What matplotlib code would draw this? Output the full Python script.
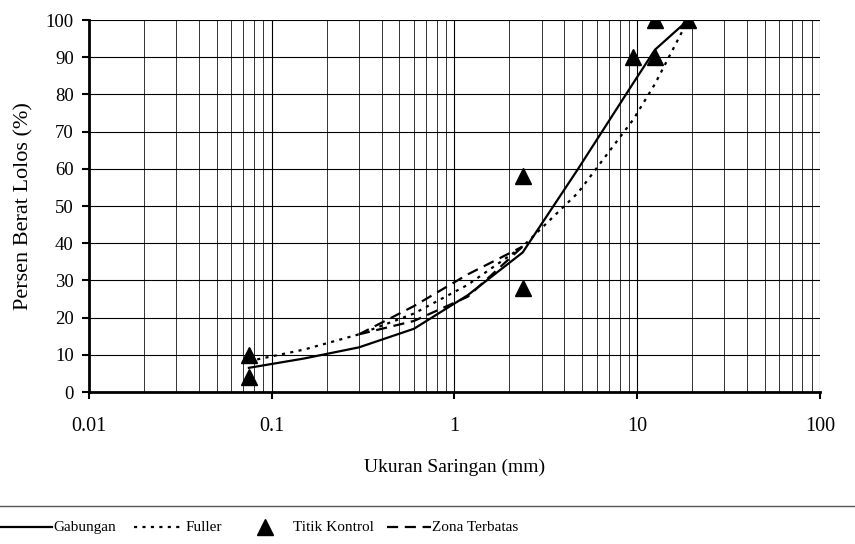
"""Gradasi agregat gabungan vs Fuller, titik kontrol dan zona terbatas."""

import matplotlib

matplotlib.use("Agg")
import matplotlib.pyplot as plt
from matplotlib.lines import Line2D
from matplotlib.ticker import FixedLocator, LogLocator, NullFormatter

# ukuran saringan (mm)
SIEVE = [0.075, 0.15, 0.3, 0.6, 1.18, 2.36, 4.75, 9.5, 12.5, 19.0]
GABUNGAN = [6.5, 9.0, 12.0, 17.0, 26.0, 37.5, 60.0, 83.0, 92.0, 100.0]
FULLER = [8.3, 11.4, 15.5, 21.1, 28.8, 39.1, 53.6, 73.2, 82.8, 100.0]

ZONA_SIEVE = [0.3, 0.6, 1.18, 2.36]
ZONA_ATAS = [15.5, 23.1, 31.6, 39.1]
ZONA_BAWAH = [15.5, 19.1, 25.6, 39.1]

KONTROL_SIEVE = [0.075, 0.075, 2.36, 2.36, 9.5, 12.5, 12.5, 19.0]
KONTROL_NILAI = [4, 10, 28, 58, 90, 90, 100, 100]

Y_TICKS = list(range(0, 101, 10))

plt.rcParams.update(
    {
        "font.family": ["Liberation Serif", "DejaVu Serif"],
        "font.size": 11,
    }
)

fig = plt.figure(figsize=(8.55, 5.44), dpi=100)
ax = fig.add_axes([0.1041, 0.2794, 0.8549, 0.6838])

ax.plot(SIEVE, GABUNGAN, color="black", linewidth=1.6, zorder=3)
ax.plot(SIEVE, FULLER, color="black", linewidth=1.6,
        linestyle=(0, (1.4, 2.4)), zorder=3)
for upper_lower in (ZONA_ATAS, ZONA_BAWAH):
    ax.plot(ZONA_SIEVE, upper_lower, color="black", linewidth=1.6,
            linestyle=(0, (5, 3)), zorder=3)
ax.plot(KONTROL_SIEVE, KONTROL_NILAI, linestyle="none", marker="^",
        markersize=12, color="black", zorder=4)

ax.set_xscale("log")
ax.set_xlim(0.01, 100)
ax.set_ylim(0, 100)
ax.xaxis.set_major_locator(FixedLocator([0.01, 0.1, 1, 10, 100]))
ax.set_xticklabels(["0.01", "0.1", "1", "10", "100"])
ax.xaxis.set_minor_locator(LogLocator(base=10, subs=range(2, 10)))
ax.xaxis.set_minor_formatter(NullFormatter())
ax.set_yticks(Y_TICKS)

ax.grid(True, which="major", axis="both", color="black", linewidth=0.8)
ax.grid(True, which="minor", axis="x", color="#333333", linewidth=0.7)
ax.set_axisbelow(True)

for side in ("top", "right"):
    ax.spines[side].set_visible(False)
for side in ("left", "bottom"):
    ax.spines[side].set_linewidth(2.0)
ax.tick_params(which="minor", length=0)
ax.tick_params(axis="y", which="major", direction="out", length=5,
               width=1.5, labelsize=13.5, pad=6)
ax.tick_params(axis="x", which="major", direction="out", length=5,
               width=1.5, labelsize=14.5, pad=13)

ax.set_xlabel("Ukuran Saringan (mm)", fontsize=14, labelpad=16)
ax.set_ylabel("Persen Berat Lolos (%)", fontsize=16, labelpad=9)

# legenda manual di bawah garis pemisah
fig.add_artist(Line2D([0.0, 1.0], [0.070, 0.070], color="#555555",
                      linewidth=1.0, transform=fig.transFigure))
ly = 0.031
W = 855.0
fs = 11
fig.add_artist(Line2D([0 / W, 52 / W], [ly, ly], color="black",
                      linewidth=1.6, transform=fig.transFigure))
fig.text(53 / W, ly, "Gabungan", va="center", ha="left", fontsize=fs)
fig.add_artist(Line2D([134 / W, 182 / W], [ly, ly], color="black",
                      linewidth=1.6, linestyle=(0, (1.4, 2.4)),
                      transform=fig.transFigure))
fig.text(186 / W, ly, "Fuller", va="center", ha="left", fontsize=fs)
fig.add_artist(Line2D([265 / W], [ly], color="black", marker="^",
                      markersize=12, linestyle="none",
                      transform=fig.transFigure))
fig.text(293 / W, ly, "Titik Kontrol", va="center", ha="left", fontsize=fs)
fig.add_artist(Line2D([387 / W, 431 / W], [ly, ly], color="black",
                      linewidth=1.6, linestyle=(0, (5, 3)),
                      transform=fig.transFigure))
fig.text(432 / W, ly, "Zona Terbatas", va="center", ha="left", fontsize=fs)

fig.savefig("out.png", dpi=100)
